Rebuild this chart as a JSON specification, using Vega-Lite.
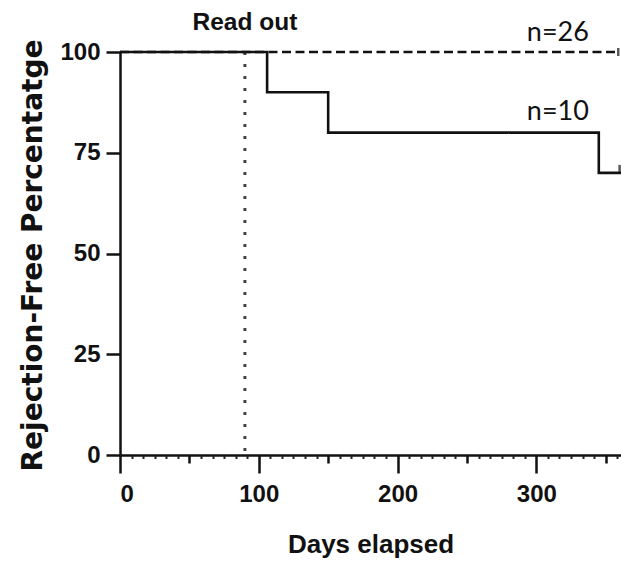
{
  "$schema": "https://vega.github.io/schema/vega-lite/v6.json",
  "width": 501,
  "height": 403,
  "autosize": {"type": "none"},
  "padding": {"left": 120, "top": 52, "right": 0, "bottom": 107},
  "background": "white",
  "config": {"view": {"stroke": null}},
  "datasets": {
    "curves": [
      {"day": 0, "pct": 100, "group": "n=26"},
      {"day": 359, "pct": 100, "group": "n=26"},
      {"day": 0, "pct": 100, "group": "n=10"},
      {"day": 106, "pct": 90, "group": "n=10"},
      {"day": 150, "pct": 80, "group": "n=10"},
      {"day": 345, "pct": 70, "group": "n=10"},
      {"day": 361, "pct": 70, "group": "n=10"}
    ],
    "censored": [
      {"day": 359, "pct": 100, "group": "n=26"},
      {"day": 360, "pct": 71, "group": "n=10"}
    ],
    "readout": [{"day": 90, "label": "Read out", "pct": 107.3}],
    "groupLabels": [
      {"day": 315.5, "pct": 104.7, "label": "n=26"},
      {"day": 315.5, "pct": 85.1, "label": "n=10"}
    ]
  },
  "resolve": {"axis": {"x": "independent"}},
  "layer": [
    {
      "data": {"name": "readout"},
      "mark": {"type": "rule", "color": "#444444", "strokeWidth": 3, "strokeDash": [3, 9]},
      "encoding": {
        "x": {
          "field": "day", "type": "quantitative",
          "scale": {"domain": [0, 361], "nice": false, "zero": false},
          "axis": {
            "orient": "bottom",
            "values": [50, 150, 250, 350], "tickSize": 8, "tickWidth": 2.5, "tickColor": "#111111",
            "labels": false, "domain": false, "grid": false, "title": null
          }
        }
      }
    },
    {
      "data": {"name": "curves"},
      "mark": {"type": "line", "interpolate": "step-after", "color": "#111111", "strokeWidth": 2.6},
      "encoding": {
        "x": {
          "field": "day", "type": "quantitative",
          "scale": {"domain": [0, 361], "nice": false, "zero": false},
          "axis": {
            "orient": "bottom",
            "values": [0, 100, 200, 300], "tickSize": 18, "tickWidth": 2.5, "tickColor": "#111111",
            "domainColor": "#111111", "domainWidth": 2.5, "grid": false,
            "labelFont": "Liberation Sans", "labelFontWeight": "bold",
            "labelFontSize": 24, "labelColor": "#111111", "labelPadding": 9,
            "title": "Days elapsed", "titleFont": "Liberation Sans",
            "titleFontWeight": "bold", "titleFontSize": 26, "titleColor": "#111111",
            "titleBaseline": "alphabetic", "titleY": 97
          }
        },
        "y": {
          "field": "pct", "type": "quantitative",
          "scale": {"domain": [0, 100], "nice": false},
          "axis": {
            "values": [0, 25, 50, 75, 100], "tickSize": 14, "tickWidth": 2.5, "tickColor": "#111111",
            "domainColor": "#111111", "domainWidth": 2.5, "grid": false,
            "labelFont": "Liberation Sans", "labelFontWeight": "bold",
            "labelFontSize": 24, "labelColor": "#111111", "labelPadding": 6,
            "title": "Rejection-Free Percentatge", "titleFont": "DejaVu Sans",
            "titleFontWeight": "bold", "titleFontSize": 28, "titleColor": "#111111",
            "titleAngle": -90, "titleBaseline": "middle", "titleAlign": "center",
            "titleX": -87, "titleY": 203
          }
        },
        "detail": {"field": "group"},
        "strokeDash": {
          "field": "group", "type": "nominal",
          "scale": {"domain": ["n=26", "n=10"], "range": [[9, 4.5], [1, 0]]},
          "legend": null
        },
        "order": {"field": "day"}
      }
    },
    {
      "data": {"name": "censored"},
      "mark": {"type": "tick", "orient": "vertical", "color": "#111111", "thickness": 2.5, "size": 8},
      "encoding": {
        "x": {
          "field": "day", "type": "quantitative",
          "scale": {"domain": [0, 361], "nice": false, "zero": false},
          "axis": {
            "orient": "bottom",
            "values": [8.33, 16.67, 25, 33.33, 41.67, 58.33, 66.67, 75, 83.33, 91.67,
                       108.33, 116.67, 125, 133.33, 141.67, 158.33, 166.67, 175, 183.33, 191.67,
                       208.33, 216.67, 225, 233.33, 241.67, 258.33, 266.67, 275, 283.33, 291.67,
                       308.33, 316.67, 325, 333.33, 341.67, 358.33],
            "tickSize": 3.5, "tickWidth": 2, "tickColor": "#222222",
            "labels": false, "domain": false, "grid": false, "title": null
          }
        },
        "y": {"field": "pct", "type": "quantitative", "scale": {"domain": [0, 100], "nice": false}}
      }
    },
    {
      "data": {"name": "readout"},
      "mark": {
        "type": "text", "font": "Liberation Sans", "fontWeight": "bold",
        "fontSize": 24.5, "color": "#111111", "align": "center", "baseline": "middle"
      },
      "encoding": {
        "x": {"field": "day", "type": "quantitative", "scale": {"domain": [0, 361], "nice": false, "zero": false}, "axis": null},
        "y": {"field": "pct", "type": "quantitative", "scale": {"domain": [0, 100], "nice": false}},
        "text": {"field": "label"}
      }
    },
    {
      "data": {"name": "groupLabels"},
      "mark": {
        "type": "text", "font": "Lato", "fontSize": 27, "color": "#111111",
        "align": "center", "baseline": "middle"
      },
      "encoding": {
        "x": {"field": "day", "type": "quantitative", "scale": {"domain": [0, 361], "nice": false, "zero": false}, "axis": null},
        "y": {"field": "pct", "type": "quantitative", "scale": {"domain": [0, 100], "nice": false}},
        "text": {"field": "label"}
      }
    }
  ]
}
